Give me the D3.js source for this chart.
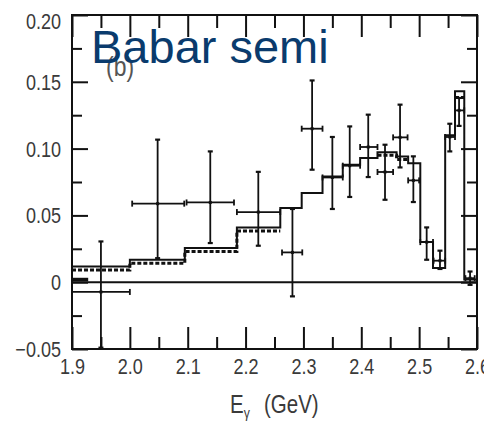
<!DOCTYPE html>
<html>
<head>
<meta charset="utf-8">
<script src="https://cdn.jsdelivr.net/npm/d3@7"></script>
<style>
  body { margin: 0; background: #fff; }
  .tick text { font-family: "Liberation Sans", Arial, sans-serif; font-size: 22px; fill: #3a3a3a; }
  .tick line { stroke: #111; stroke-width: 2; }
</style>
</head>
<body>
<div id="chart"></div>
<script>
      var w = 484;
      var h = 429;
      var padL = 72, padR = 477, padT = 15, padB = 349;
      var squeeze = 0.82;   // narrow look of the original lettering

      // histogram bin edges (GeV) and bin heights
      var binEdges = [1.9, 2.0, 2.095, 2.185, 2.26, 2.297, 2.333, 2.368, 2.398, 2.428, 2.461, 2.481, 2.502, 2.524, 2.545, 2.562, 2.578, 2.6];
      var solidHist = [0.0118, 0.0168, 0.0256, 0.041, 0.0555, 0.0668, 0.0792, 0.088, 0.093, 0.0972, 0.094, 0.089, 0.030, 0.0107, 0.110, 0.143, 0.002];
      // dotted histogram, only where it separates from the solid one
      var dotEdgesA = [1.9, 2.0, 2.095, 2.185, 2.26];
      var dotHistA = [0.0099, 0.0149, 0.0237, 0.0391];
      var dotEdgesB = [2.428, 2.461, 2.481];
      var dotHistB = [0.0957, 0.0925];
      var dotEdgesC = [2.562, 2.578];
      var dotHistC = [0.139];
      var bkgEdges = [1.9, 1.928];
      var bkgHist = [0.002];

      // data points: centre, bin range, value, error bar ends
      var ptE  = [1.95, 2.048, 2.139, 2.222, 2.281, 2.315, 2.350, 2.380, 2.412, 2.441, 2.467, 2.490, 2.513, 2.536, 2.553, 2.569, 2.588];
      var ptLo = [1.9, 2.004, 2.098, 2.185, 2.263, 2.297, 2.333, 2.368, 2.398, 2.428, 2.455, 2.481, 2.502, 2.525, 2.545, 2.562, 2.580];
      var ptHi = [2.0, 2.094, 2.180, 2.260, 2.298, 2.333, 2.368, 2.398, 2.428, 2.455, 2.480, 2.500, 2.524, 2.545, 2.562, 2.578, 2.596];
      var ptV  = [-0.0073, 0.0588, 0.0597, 0.0525, 0.0223, 0.1149, 0.0784, 0.0872, 0.1012, 0.0825, 0.1084, 0.0762, 0.030, 0.0161, 0.1087, 0.1286, 0.003];
      var ptUp = [0.0305, 0.1067, 0.0979, 0.0826, 0.0548, 0.151, 0.1087, 0.1166, 0.1254, 0.1029, 0.1329, 0.0942, 0.041, 0.0236, 0.1186, 0.1379, 0.008];
      var ptDn = [-0.049, 0.018, 0.0293, 0.0273, -0.0106, 0.0842, 0.0548, 0.0638, 0.0787, 0.0617, 0.0859, 0.060, 0.0168, 0.0099, 0.0979, 0.117, -0.002];

      // ticks
      var xMajor = [1.9, 2.0, 2.1, 2.2, 2.3, 2.4, 2.5, 2.6];
      var xLabels = ["1.9", "2.0", "2.1", "2.2", "2.3", "2.4", "2.5", "2.6"];
      var xMinor = [1.95, 2.05, 2.15, 2.25, 2.35, 2.45, 2.55];
      var yMajor = [-0.05, 0, 0.05, 0.10, 0.15, 0.20];
      var yLabels = ["\u22120.05", "0", "0.05", "0.10", "0.15", "0.20"];
      var yMinor = [-0.025, 0.025, 0.075, 0.125, 0.175];

      var xScale = d3.scaleLinear().domain([1.9, 2.6]).range([padL, padR]);
      var yScale = d3.scaleLinear().domain([-0.05, 0.20]).range([padB, padT]);

      var svg = d3.select("#chart")
            .append("svg")
            .attr("width", w)
            .attr("height", h);

      svg.append("rect").attr("width", w).attr("height", h).attr("fill", "#fff");

      function noDomain(g) { g.select(".domain").remove(); }

      //Bottom axis
      svg.append("g")
        .attr("transform", "translate(0," + padB + ")")
        .call(d3.axisBottom(xScale).tickValues(xMajor).tickSizeInner(-22).tickSizeOuter(0).tickPadding(9)
              .tickFormat(function(d) { return xLabels[xMajor.indexOf(d)]; }))
        .call(noDomain)
        .selectAll("text")
        .attr("transform", "scale(" + squeeze + ",1)");
      svg.append("g")
        .attr("transform", "translate(0," + padB + ")")
        .call(d3.axisBottom(xScale).tickValues(xMinor).tickSizeInner(-12).tickSizeOuter(0).tickFormat(""))
        .call(noDomain);

      //Top axis
      svg.append("g")
        .attr("transform", "translate(0," + padT + ")")
        .call(d3.axisTop(xScale).tickValues(xMajor).tickSizeInner(-22).tickSizeOuter(0).tickFormat(""))
        .call(noDomain);
      svg.append("g")
        .attr("transform", "translate(0," + padT + ")")
        .call(d3.axisTop(xScale).tickValues(xMinor).tickSizeInner(-13).tickSizeOuter(0).tickFormat(""))
        .call(noDomain);

      //Left axis
      svg.append("g")
        .attr("transform", "translate(" + padL + ",0)")
        .call(d3.axisLeft(yScale).tickValues(yMajor).tickSizeInner(-16).tickSizeOuter(0).tickPadding(11)
              .tickFormat(function(d) { return yLabels[yMajor.indexOf(d)]; }))
        .call(noDomain)
        .selectAll("text")
        .attr("x", -11 / squeeze)
        .attr("transform", "scale(" + squeeze + ",1)")
        .attr("dy", function(d) { return d === 0.20 ? "0.6em" : "0.34em"; });
      svg.append("g")
        .attr("transform", "translate(" + padL + ",0)")
        .call(d3.axisLeft(yScale).tickValues(yMinor).tickSizeInner(-10).tickSizeOuter(0).tickFormat(""))
        .call(noDomain);

      //Right axis
      svg.append("g")
        .attr("transform", "translate(" + padR + ",0)")
        .call(d3.axisRight(yScale).tickValues(yMajor).tickSizeInner(-16).tickSizeOuter(0).tickFormat(""))
        .call(noDomain);
      svg.append("g")
        .attr("transform", "translate(" + padR + ",0)")
        .call(d3.axisRight(yScale).tickValues(yMinor).tickSizeInner(-10).tickSizeOuter(0).tickFormat(""))
        .call(noDomain);

      // frame
      svg.append("rect")
        .attr("x", padL).attr("y", padT)
        .attr("width", padR - padL).attr("height", padB - padT)
        .attr("fill", "none").attr("stroke", "#111").attr("stroke-width", 2);

      // zero line
      svg.append("line")
        .attr("x1", xScale(1.9)).attr("x2", xScale(2.6))
        .attr("y1", yScale(0)).attr("y2", yScale(0))
        .attr("stroke", "#111").attr("stroke-width", 2);

      var step = d3.line()
        .x(function(d) { return xScale(d[0]); })
        .y(function(d) { return yScale(d[1]); })
        .curve(d3.curveStepAfter);

      function histPoints(edges, vals) {
        return edges.map(function(e, i) { return [e, vals[Math.min(i, vals.length - 1)]]; });
      }

      // dotted histogram pieces
      [[dotEdgesA, dotHistA], [dotEdgesB, dotHistB], [dotEdgesC, dotHistC]].forEach(function(p) {
        svg.append("path")
          .attr("d", step(histPoints(p[0], p[1])))
          .attr("transform", "translate(0,1)")
          .attr("fill", "none").attr("stroke", "#111")
          .attr("stroke-width", 3).attr("stroke-dasharray", "4,2");
      });

      svg.append("path")
        .attr("d", step(histPoints(bkgEdges, bkgHist)))
        .attr("fill", "none").attr("stroke", "#111").attr("stroke-width", 3.5);

      // solid histogram
      svg.append("path")
        .attr("d", step(histPoints(binEdges, solidHist)))
        .attr("fill", "none").attr("stroke", "#111").attr("stroke-width", 2);

      // data points with error bars
      var pts = ptE.map(function(e, i) {
        return {e: e, lo: ptLo[i], hi: ptHi[i], v: ptV[i], up: ptUp[i], dn: ptDn[i]};
      });
      var bars = svg.selectAll(".pt").data(pts).enter().append("g")
        .attr("class", "pt")
        .attr("stroke", "#111").attr("stroke-width", 1.8);

      bars.append("line")
        .attr("x1", function(d) { return xScale(d.e); }).attr("x2", function(d) { return xScale(d.e); })
        .attr("y1", function(d) { return yScale(d.up); }).attr("y2", function(d) { return yScale(d.dn); });
      bars.append("line")
        .attr("x1", function(d) { return xScale(d.lo); }).attr("x2", function(d) { return xScale(d.hi); })
        .attr("y1", function(d) { return yScale(d.v); }).attr("y2", function(d) { return yScale(d.v); });
      // caps
      ["up", "dn"].forEach(function(k) {
        bars.append("line")
          .attr("x1", function(d) { return xScale(d.e) - 2.5; }).attr("x2", function(d) { return xScale(d.e) + 2.5; })
          .attr("y1", function(d) { return yScale(d[k]); }).attr("y2", function(d) { return yScale(d[k]); })
          .attr("stroke-width", 2.2);
      });
      ["lo", "hi"].forEach(function(k) {
        bars.append("line")
          .attr("x1", function(d) { return xScale(d[k]); }).attr("x2", function(d) { return xScale(d[k]); })
          .attr("y1", function(d) { return yScale(d.v) - 3; }).attr("y2", function(d) { return yScale(d.v) + 3; });
      });
      bars.append("rect")
        .attr("x", function(d) { return xScale(d.e) - 1.5; })
        .attr("y", function(d) { return yScale(d.v) - 1.5; })
        .attr("width", 3).attr("height", 3)
        .attr("fill", "#111").attr("stroke", "none");

      // panel label and title
      svg.append("text")
        .attr("transform", "translate(106,76) scale(" + squeeze + ",1)")
        .style("font-family", "'Liberation Sans', Arial, sans-serif")
        .style("font-size", "28px")
        .style("fill", "#555")
        .text("(b)");

      svg.append("text")
        .attr("x", 91).attr("y", 63)
        .style("font-family", "'Liberation Sans', Arial, sans-serif")
        .style("font-size", "47px")
        .style("fill", "#0a3b6d")
        .text("Babar semi");

      var xt = svg.append("text")
        .attr("transform", "translate(230,413) scale(" + squeeze + ",1)")
        .style("font-family", "'Liberation Sans', Arial, sans-serif")
        .style("font-size", "25px")
        .style("fill", "#3a3a3a");
      xt.append("tspan").text("E");
      xt.append("tspan").attr("dy", 5).style("font-size", "15px").text("\u03b3");
      xt.append("tspan").attr("x", 34 / squeeze).attr("dy", -5).text("(GeV)");
</script>
</body>
</html>
